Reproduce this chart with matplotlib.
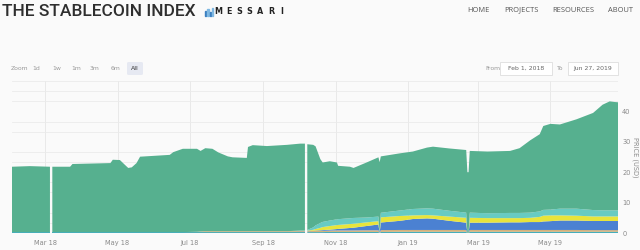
import numpy as np
import pandas as pd
import matplotlib
matplotlib.use("Agg")
import matplotlib.pyplot as plt
from matplotlib.patches import FancyBboxPatch, Rectangle
from matplotlib.ticker import MultipleLocator

# --- data ---
dates = ["2018-02-01", "2018-02-16", "2018-03-05", "2018-03-06", "2018-03-07",
         "2018-03-22", "2018-03-24", "2018-04-25", "2018-04-27", "2018-05-03",
         "2018-05-07", "2018-05-10", "2018-05-13", "2018-05-17", "2018-05-20",
         "2018-06-14", "2018-06-17", "2018-06-25", "2018-07-07", "2018-07-10",
         "2018-07-14", "2018-07-20", "2018-07-25", "2018-08-02", "2018-08-06",
         "2018-08-18", "2018-08-19", "2018-08-23", "2018-09-04", "2018-09-21",
         "2018-10-02", "2018-10-06", "2018-10-07", "2018-10-08", "2018-10-13",
         "2018-10-15", "2018-10-19", "2018-10-21", "2018-10-27", "2018-11-02",
         "2018-11-03", "2018-11-13", "2018-11-16", "2018-11-27", "2018-12-07",
         "2018-12-08", "2018-12-09", "2018-12-25", "2019-01-05", "2019-01-17",
         "2019-01-22", "2019-02-05", "2019-02-19", "2019-02-20", "2019-02-21",
         "2019-02-22", "2019-03-09", "2019-03-28", "2019-04-05", "2019-04-14",
         "2019-04-22", "2019-04-25", "2019-05-01", "2019-05-09", "2019-05-23",
         "2019-06-06", "2019-06-14", "2019-06-20", "2019-06-24", "2019-06-27"]

nan = np.nan
# top of the stack (index level)
total = [21.8, 22.0, 21.8, nan, 21.8, 21.8, 22.7, 23.0, 24.1, 24.0,
         22.5, 21.4, 21.6, 23.0, 25.1, 25.7, 26.6, 27.7, 27.7, 27.0,
         27.9, 27.7, 26.5, 25.2, 24.9, 24.7, 28.3, 28.9, 28.6, 29.0,
         29.4, 29.4, nan, 29.2, 29.0, 28.5, 24.3, 23.2, 23.6, 23.2,
         22.1, 21.8, 21.4, 23.2, 24.9, 23.3, 25.2, 26.2, 26.8, 28.1,
         28.4, 27.8, 27.3, 20.0, 20.0, 27.0, 26.8, 27.0, 27.9, 30.5,
         32.5, 35.2, 35.9, 35.7, 37.4, 39.5, 42.2, 43.3, 43.1, 43.0]

base = [0.3, 0.3, 0.3, nan, 0.3, 0.3, 0.3, 0.3, 0.3, 0.3,
        0.3, 0.3, 0.3, 0.3, 0.3, 0.3, 0.3, 0.3, 0.3, 0.3,
        0.3, 0.3, 0.3, 0.3, 0.3, 0.3, 0.3, 0.3, 0.3, 0.3,
        0.3, 0.3, nan, 0.3, 0.3, 0.3, 0.3, 0.3, 0.35, 0.35,
        0.35, 0.35, 0.35, 0.35, 0.35, 0.0, 0.35, 0.4, 0.4, 0.4,
        0.4, 0.4, 0.4, 0.0, 0.0, 0.4, 0.4, 0.4, 0.4, 0.4,
        0.4, 0.4, 0.4, 0.4, 0.4, 0.4, 0.4, 0.4, 0.4, 0.4]

tan = [0.0, 0.0, 0.0, nan, 0.0, 0.0, 0.0, 0.0, 0.0, 0.0,
       0.0, 0.0, 0.0, 0.0, 0.0, 0.0, 0.0, 0.0, 0.1, 0.2,
       0.3, 0.3, 0.3, 0.3, 0.3, 0.3, 0.3, 0.3, 0.3, 0.3,
       0.3, 0.3, nan, 0.3, 0.35, 0.35, 0.4, 0.4, 0.45, 0.5,
       0.5, 0.5, 0.5, 0.55, 0.55, 0.0, 0.6, 0.6, 0.6, 0.6,
       0.6, 0.6, 0.6, 0.0, 0.0, 0.6, 0.6, 0.6, 0.6, 0.6,
       0.6, 0.6, 0.6, 0.6, 0.6, 0.55, 0.55, 0.55, 0.55, 0.55]

blue = [0.0, 0.0, 0.0, nan, 0.0, 0.0, 0.0, 0.0, 0.0, 0.0,
        0.0, 0.0, 0.0, 0.0, 0.0, 0.0, 0.0, 0.0, 0.0, 0.0,
        0.0, 0.0, 0.0, 0.0, 0.0, 0.0, 0.0, 0.0, 0.0, 0.0,
        0.05, 0.05, nan, 0.1, 0.1, 0.15, 0.2, 0.25, 0.3, 0.45,
        0.5, 0.8, 0.9, 1.4, 1.9, 0.0, 2.5, 3.0, 3.6, 3.8,
        3.7, 3.0, 2.4, 0.0, 0.0, 2.4, 2.4, 2.5, 2.5, 2.6,
        2.6, 2.8, 2.9, 3.1, 3.1, 3.0, 3.0, 3.0, 3.0, 3.0]

yellow = [0.0, 0.0, 0.0, nan, 0.0, 0.0, 0.0, 0.0, 0.0, 0.0,
          0.0, 0.0, 0.0, 0.0, 0.0, 0.0, 0.0, 0.0, 0.0, 0.0,
          0.0, 0.0, 0.0, 0.0, 0.0, 0.0, 0.0, 0.0, 0.0, 0.0,
          0.05, 0.05, nan, 0.1, 0.3, 0.5, 0.8, 1.0, 1.2, 1.3,
          1.3, 1.3, 1.3, 1.2, 1.1, 0.0, 1.7, 1.6, 1.2, 1.1,
          1.1, 1.4, 1.6, 0.0, 0.0, 1.6, 1.5, 1.4, 1.4, 1.4,
          1.7, 1.9, 1.9, 1.7, 1.6, 1.5, 1.5, 1.5, 1.5, 1.5]

aqua = [0.0, 0.0, 0.0, nan, 0.0, 0.0, 0.0, 0.0, 0.0, 0.0,
        0.0, 0.0, 0.0, 0.0, 0.0, 0.0, 0.0, 0.0, 0.0, 0.0,
        0.0, 0.0, 0.0, 0.0, 0.0, 0.0, 0.0, 0.0, 0.0, 0.0,
        0.1, 0.1, nan, 0.2, 0.8, 1.2, 1.6, 1.7, 1.8, 1.9,
        1.9, 1.9, 1.9, 1.6, 1.5, 0.0, 1.5, 1.8, 2.1, 2.2,
        2.2, 1.9, 1.7, 0.0, 0.0, 1.7, 1.6, 1.7, 1.7, 1.7,
        1.8, 1.9, 1.9, 2.2, 2.3, 2.1, 2.0, 2.0, 2.0, 2.0]

tick_dates = ["2018-03-01", "2018-05-01", "2018-07-01", "2018-09-01",
              "2018-11-01", "2019-01-01", "2019-03-01", "2019-05-01"]
tick_labels = ["Mar 18", "May 18", "Jul 18", "Sep 18",
               "Nov 18", "Jan 19", "Mar 19", "May 19"]
y_ticks = [0, 10, 20, 30, 40]

# --- build the stack ---
x = pd.to_datetime(dates)
lower = np.array([base, tan, blue, yellow, aqua], dtype=float)
green = np.array(total, dtype=float) - lower.sum(axis=0)
layers = np.vstack([lower, green])
colors = ["#45aebb", "#d4b27c", "#4b81d2", "#e8e43c", "#68cbc2", "#56b08f"]

W, H = 640, 250
bg = "#fafafa"
fig = plt.figure(figsize=(W / 100, H / 100), dpi=100)
fig.patch.set_facecolor(bg)

def fx(px):
    return px / W

def fy(py):
    return 1 - py / H

ax = fig.add_axes([fx(12), fy(233), fx(618) - fx(12), (233 - 81) / H])
ax.set_facecolor(bg)

ax.stackplot(x, layers, colors=colors, linewidth=0)

ax.set_xlim(pd.Timestamp("2018-02-01"), pd.Timestamp("2019-06-27"))
ax.set_ylim(0, 50)

ax.set_xticks(pd.to_datetime(tick_dates))
ax.set_xticklabels(tick_labels)
ax.yaxis.tick_right()
ax.set_yticks(y_ticks)
ax.yaxis.set_minor_locator(MultipleLocator(10 / 3))
ax.grid(True, which="minor", axis="y", color="#ebebeb", lw=0.6)
ax.grid(True, which="major", axis="x", color="#e6e6e6", lw=0.6)
ax.grid(False, which="major", axis="y")
ax.set_axisbelow(True)
ax.tick_params(axis="both", which="both", length=0, labelsize=4.8,
               labelcolor="#8a8a8a")
ax.tick_params(axis="x", pad=5)
ax.tick_params(axis="y", pad=3)
ax.yaxis.set_label_position("right")
ax.set_ylabel("PRICE (USD)", rotation=270, fontsize=4.8, color="#8a8a8a",
              labelpad=6)
for s in ax.spines.values():
    s.set_visible(False)

# --- page header ---
fig.text(fx(2), fy(12), "THE STABLECOIN INDEX", fontsize=12.5, color="#2e2e2e",
         family="Roboto", fontweight="medium", va="center", ha="left")
for i, h in enumerate([5, 7, 4, 8]):
    fig.add_artist(Rectangle((fx(205 + i * 2.4), fy(16)), 1.3 / W, h / H,
                             transform=fig.transFigure,
                             color="#7fb8e2" if i % 2 else "#3b7fc0"))
for i, ch in enumerate("MESSARI"):
    fig.text(fx(218 + i * 10.6), fy(12), ch, fontsize=5.8, fontweight="bold",
             color="#222222", va="center", ha="center", family="DejaVu Sans")
for label, px in [("HOME", 467), ("PROJECTS", 504), ("RESOURCES", 552),
                  ("ABOUT", 608)]:
    fig.text(fx(px), fy(10), label, fontsize=5.4, color="#555555",
             va="center", ha="left", family="Open Sans")

# --- zoom / range controls ---
fig.text(fx(11), fy(68), "Zoom", fontsize=4.4, color="#999999",
         va="center", ha="left")
fig.add_artist(FancyBboxPatch((fx(127), fy(75)), 16 / W, 13 / H,
                              boxstyle="round,pad=0,rounding_size=0.004",
                              transform=fig.transFigure, fc="#e6e9f2", ec="none"))
for label, px in [("1d", 36), ("1w", 57), ("1m", 76), ("3m", 95),
                  ("6m", 116), ("All", 135)]:
    fig.text(fx(px), fy(68), label, fontsize=4.4,
             color="#333333" if label == "All" else "#999999",
             va="center", ha="center")
fig.text(fx(485), fy(68), "From", fontsize=4.4, color="#999999",
         va="center", ha="left")
fig.text(fx(557), fy(68), "To", fontsize=4.4, color="#999999",
         va="center", ha="left")
for label, x0, x1 in [("Feb 1, 2018", 500, 552), ("Jun 27, 2019", 568, 618)]:
    fig.add_artist(Rectangle((fx(x0), fy(75)), (x1 - x0) / W, 13 / H,
                             transform=fig.transFigure, fc="white",
                             ec="#dddddd", lw=0.6))
    fig.text(fx((x0 + x1) / 2), fy(68.5), label, fontsize=4.4, color="#666666",
             va="center", ha="center")

fig.savefig("out.png", dpi=100, facecolor=bg)
